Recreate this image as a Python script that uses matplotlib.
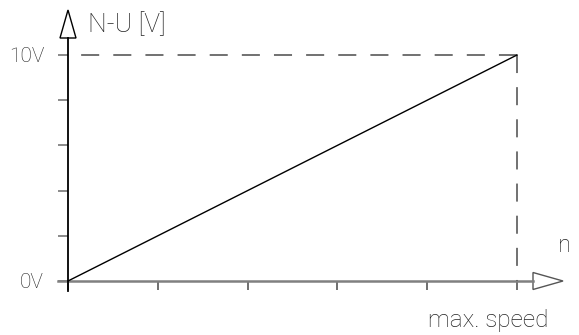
import numpy as np
import matplotlib.pyplot as plt
from matplotlib.patches import Polygon

plt.rcParams['font.family'] = ['Roboto', 'DejaVu Sans']
plt.rcParams['font.weight'] = 'light'

# data: setpoint voltage rises linearly from 0V at standstill to 10V at max speed
speed = [0, 100]            # % of max. speed
voltage = [0, 10]           # N-U [V]
x_ticks = [0, 20, 40, 60, 80, 100]
y_ticks = [0, 2, 4, 6, 8, 10]
y_labels = ['0V', '', '', '', '', '10V']

W, H = 579, 335
fig = plt.figure(figsize=(W / 100, H / 100), dpi=100)
L, B, AW, AH = 68, 54, 449, 226   # axes box in pixels
ax = fig.add_axes([L / W, B / H, AW / W, AH / H])
ax.set_xlim(speed[0], speed[-1])
ax.set_ylim(voltage[0], voltage[-1])
px = (speed[-1] - speed[0]) / AW      # data units per pixel
py = (voltage[-1] - voltage[0]) / AH

for s in ax.spines.values():
    s.set_visible(False)
ax.set_xticks(x_ticks, labels=[''] * len(x_ticks))
ax.set_yticks(y_ticks, labels=y_labels)
ax.tick_params(axis='x', direction='out', length=6.5, width=1.2, color='#555')
ax.tick_params(axis='y', direction='out', length=7.2, width=1.2, color='#777',
               pad=10, labelsize=15, labelcolor='#222')

# axes lines
x_end = speed[-1] + 16 * px
y_end = voltage[-1] + 17 * py
ax.plot([speed[0] - 10 * px, x_end], [0, 0], color='#808080', lw=1.8, clip_on=False)
ax.plot([0, 0], [voltage[0] - 10 * py, y_end], color='black', lw=1.3, clip_on=False)

# arrow heads
ax.add_patch(Polygon([(-8 * px, y_end), (8 * px, y_end), (0, y_end + 28 * py)],
                     closed=True, fc='white', ec='black', lw=1.0, clip_on=False))
ax.add_patch(Polygon([(x_end, -8.5 * py), (x_end, 8.5 * py), (x_end + 30 * px, 0)],
                     closed=True, fc='white', ec='#555', lw=1.0, clip_on=False))

# dashed guides to 10V / max speed, drawn out from the corner
ax.plot([speed[-1], speed[0]], [voltage[-1]] * 2, color='#666', lw=1.3,
        dashes=(10, 7.8), clip_on=False)
ax.plot([speed[-1]] * 2, [voltage[-1], voltage[0]], color='#666', lw=1.3,
        dashes=(10, 7.8), clip_on=False)

# characteristic
ax.plot(speed, voltage, color='black', lw=1.0, clip_on=False)

ax.text(20 * px, voltage[-1] + 30 * py, 'N-U [V]', ha='left', va='center',
        fontsize=19, color='#222')
ax.text(speed[-1] + 48 * px, 36 * py, 'n', ha='center', va='center',
        fontsize=17, color='#222')
ax.text(speed[-1] - 29 * px, -40 * py, 'max. speed', ha='center', va='center',
        fontsize=17.5, color='#222')

plt.savefig('out.png', dpi=100)
